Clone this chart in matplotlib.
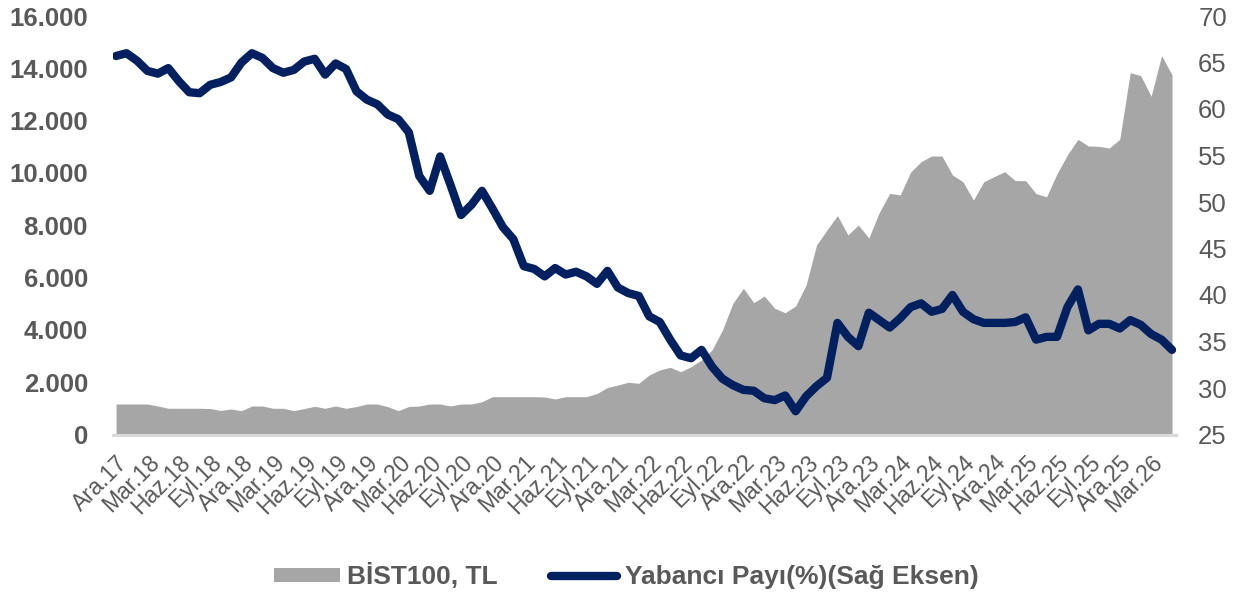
import numpy as np
import matplotlib
matplotlib.use("Agg")
import matplotlib.pyplot as plt
from matplotlib.patches import Patch
from matplotlib.lines import Line2D
from matplotlib.ticker import FuncFormatter

# ---------------- data ----------------
x_labels = ["Ara.17", "Mar.18", "Haz.18", "Eyl.18", "Ara.18", "Mar.19", "Haz.19", "Eyl.19",
            "Ara.19", "Mar.20", "Haz.20", "Eyl.20", "Ara.20", "Mar.21", "Haz.21", "Eyl.21",
            "Ara.21", "Mar.22", "Haz.22", "Eyl.22", "Ara.22", "Mar.23", "Haz.23", "Eyl.23",
            "Ara.23", "Mar.24", "Haz.24", "Eyl.24", "Ara.24", "Mar.25", "Haz.25", "Eyl.25",
            "Ara.25", "Mar.26"]
label_every = 3  # one label per quarter (monthly data)

bist100 = [1166, 1166, 1166, 1166, 1090, 1002, 1002, 1002, 1002, 994,
           918, 975, 910, 1090, 1090, 1002, 1002, 910, 994, 1078,
           1002, 1090, 1002, 1070, 1166, 1166, 1063, 910, 1070, 1090,
           1166, 1166, 1090, 1166, 1166, 1254, 1445, 1445, 1445, 1445,
           1445, 1434, 1357, 1445, 1445, 1445, 1567, 1797, 1892, 1996,
           1957, 2275, 2466, 2569, 2401, 2592, 2848, 3230, 3995, 5016,
           5589, 5039, 5295, 4825, 4656, 4913, 5715, 7245, 7818, 8372,
           7627, 8009, 7512, 8487, 9221, 9156, 10035, 10429, 10647, 10647,
           9921, 9665, 8965, 9665, 9863, 10047, 9710, 9703, 9206, 9091,
           9970, 10697, 11286, 11029, 11017, 10953, 11286, 13832, 13724, 12929,
           14489, 13744]

foreign_share = [65.7, 66.0, 65.2, 64.1, 63.8, 64.4, 63.0, 61.8, 61.7, 62.6,
                 62.9, 63.4, 65.0, 66.0, 65.5, 64.4, 63.9, 64.2, 65.1, 65.4,
                 63.7, 64.9, 64.3, 61.9, 61.0, 60.5, 59.4, 58.9, 57.5, 52.8,
                 51.2, 54.9, 51.8, 48.6, 49.7, 51.2, 49.3, 47.3, 46.0, 43.1,
                 42.8, 42.0, 42.9, 42.2, 42.5, 42.0, 41.2, 42.6, 40.8, 40.2,
                 39.9, 37.7, 37.1, 35.2, 33.5, 33.2, 34.1, 32.3, 31.0, 30.3,
                 29.8, 29.7, 28.9, 28.7, 29.2, 27.5, 29.1, 30.2, 31.1, 37.0,
                 35.5, 34.5, 38.1, 37.3, 36.5, 37.5, 38.7, 39.1, 38.2, 38.5,
                 40.0, 38.2, 37.4, 37.0, 37.0, 37.0, 37.1, 37.6, 35.2, 35.5,
                 35.5, 38.7, 40.6, 36.2, 36.9, 36.9, 36.4, 37.3, 36.8, 35.8,
                 35.2, 34.1]

left_ticks = list(range(0, 16001, 2000))
right_ticks = list(range(25, 71, 5))

# ---------------- style ----------------
plt.rcParams['font.family'] = ['Liberation Sans', 'DejaVu Sans']
GRAY_TXT = '#595959'
AREA = '#A6A6A6'
NAVY = '#002060'

W, H = 1242, 597
fig = plt.figure(figsize=(W / 100, H / 100), dpi=100)
ax = fig.add_axes([113 / W, 1 - 434.5 / H, (1176 - 113) / W, (434.5 - 16) / H])

x = np.arange(len(bist100))
ax.fill_between(x, 0, bist100, color=AREA, lw=0, zorder=1)
ax.set_xlim(-0.29, len(x) - 1 + 0.38)
ax.set_ylim(0, 16000)

ax2 = ax.twinx()
ax2.plot(x, foreign_share, color=NAVY, lw=6.0, solid_capstyle='round',
         solid_joinstyle='round', zorder=3)
ax2.set_ylim(25, 70)

for a in (ax, ax2):
    for s in ('top', 'left', 'right'):
        a.spines[s].set_visible(False)
ax2.spines['bottom'].set_visible(False)
ax.spines['bottom'].set_color('#D9D9D9')
ax.spines['bottom'].set_linewidth(2.3)

# left axis
ax.set_yticks(left_ticks)
ax.yaxis.set_major_formatter(FuncFormatter(lambda v, p: f"{int(v):,}".replace(',', '.')))
ax.tick_params(axis='y', length=0, pad=18, labelsize=18.5, labelcolor=GRAY_TXT)
for lbl in ax.get_yticklabels():
    lbl.set_fontweight('bold')

# right axis
ax2.set_yticks(right_ticks)
ax2.tick_params(axis='y', length=0, pad=16, labelsize=18.5, labelcolor=GRAY_TXT)

# x axis labels: one per quarter
ax.set_xticks(x[::label_every][:len(x_labels)])
ax.set_xticklabels(x_labels, rotation=45, ha='right', va='top',
                   rotation_mode='anchor', fontsize=16.5, color=GRAY_TXT)
ax.tick_params(axis='x', length=0, pad=12)

# legend
handles = [Patch(facecolor=AREA, edgecolor='none', label='BİST100, TL'),
           Line2D([], [], color=NAVY, lw=6.0, solid_capstyle='round',
                  label='Yabancı Payı(%)(Sağ Eksen)')]
fig.legend(handles=handles, loc='center', bbox_to_anchor=(626 / W, 1 - 576 / H),
           ncol=2, frameon=False, prop={'weight': 'bold', 'size': 19},
           labelcolor=GRAY_TXT, handlelength=2.5, handleheight=0.45,
           handletextpad=0.3, columnspacing=2.0)

fig.savefig('out.png', dpi=100)
